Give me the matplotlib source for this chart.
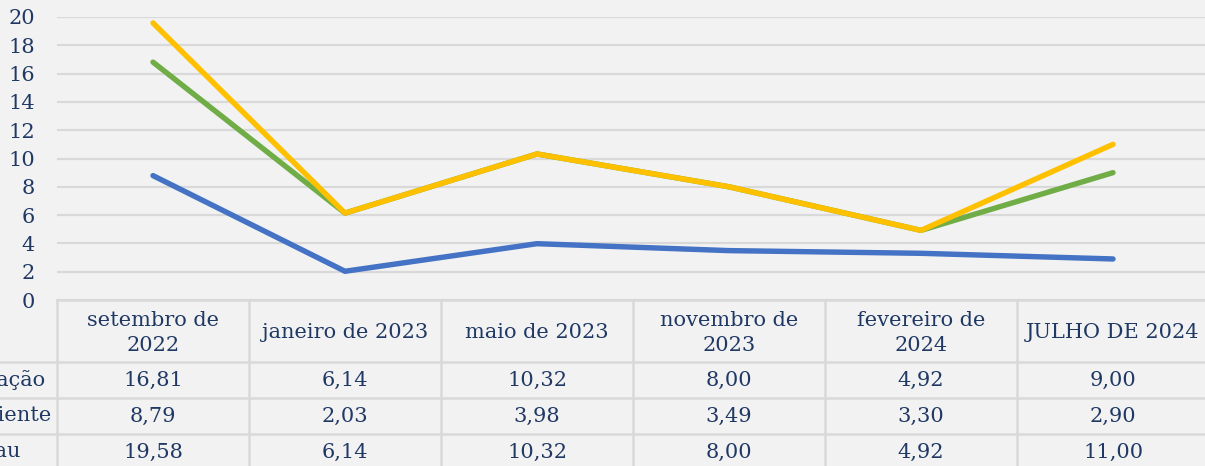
import matplotlib.pyplot as plt

W, H = 1205, 466

categories = ["setembro de\n2022", "janeiro de 2023", "maio de 2023",
              "novembro de\n2023", "fevereiro de\n2024", "JULHO DE 2024"]
series_names = ["Inflação", "Cliente", "Grau"]
serie_a = [16.81, 6.14, 10.32, 8.00, 4.92, 9.00]
serie_b = [8.79, 2.03, 3.98, 3.49, 3.30, 2.90]
serie_c = [19.58, 6.14, 10.32, 8.00, 4.92, 11.00]
series = [serie_a, serie_b, serie_c]
colors = ["#70AD47", "#4472C4", "#FFC000"]

BG = "#F2F2F2"
TXT = "#1F3864"
GRID = "#D9D9D9"
FONT = "DejaVu Serif"
FS = 15


def fig_box(x0, y0, x1, y1):
    # pixel box (top-left origin) -> figure fraction [l, b, w, h]
    return [x0 / W, 1 - y1 / H, (x1 - x0) / W, (y1 - y0) / H]


fig = plt.figure(figsize=(W / 100, H / 100), dpi=100, facecolor=BG)

ax = fig.add_axes(fig_box(57, 17, 1209, 300))
ax.set_facecolor(BG)
x = list(range(len(categories)))
for vals, col in zip(series, colors):
    ax.plot(x, vals, color=col, lw=3.9, solid_capstyle="round",
            solid_joinstyle="round", zorder=3)
ax.set_xlim(-0.5, len(categories) - 0.5)
ax.set_ylim(0, 20)
ax.set_yticks(range(0, 21, 2))
ax.set_xticks([])
ax.grid(axis="y", color=GRID, lw=1.6)
ax.set_axisbelow(True)
for s in ax.spines.values():
    s.set_visible(False)
ax.tick_params(axis="y", length=0, pad=16, labelsize=FS, labelcolor=TXT)
for lab in ax.get_yticklabels():
    lab.set_fontfamily(FONT)

# data table under the plot
tab = fig.add_axes(fig_box(57, 300, 1209, 466))
tab.set_xlim(-0.5, len(categories) - 0.5)
tab.set_ylim(466, 300)
tab.axis("off")
left_edge = -0.5 - 57 / 192
right_edge = len(categories) - 0.5
row_lines = [300, 362, 398, 434]
for i, yl in enumerate(row_lines):
    x0 = -0.5 if i == 0 else left_edge
    tab.plot([x0, right_edge], [yl, yl], color=GRID, lw=1.8, clip_on=False)
for i in range(len(categories) + 1):
    tab.plot([i - 0.5, i - 0.5], [300, 470], color=GRID, lw=1.8, clip_on=False)

for i, cat in enumerate(categories):
    tab.text(i, 333, cat, ha="center", va="center", fontsize=FS,
             color=TXT, family=FONT, linespacing=1.4)

# the row labels run off the left edge of the picture, as in the source
row_y = [380, 416, 452]
label_end = [46, 52, 21]
for name, vals, yy, xe in zip(series_names, series, row_y, label_end):
    tab.text(-0.5 - (57 - xe) / 192, yy, name, ha="right", va="center",
             fontsize=FS, color=TXT, family=FONT, clip_on=False)
    for i, v in enumerate(vals):
        tab.text(i, yy, f"{v:.2f}".replace(".", ","), ha="center",
                 va="center", fontsize=FS, color=TXT, family=FONT)

fig.savefig("out.png", dpi=100, facecolor=BG)
